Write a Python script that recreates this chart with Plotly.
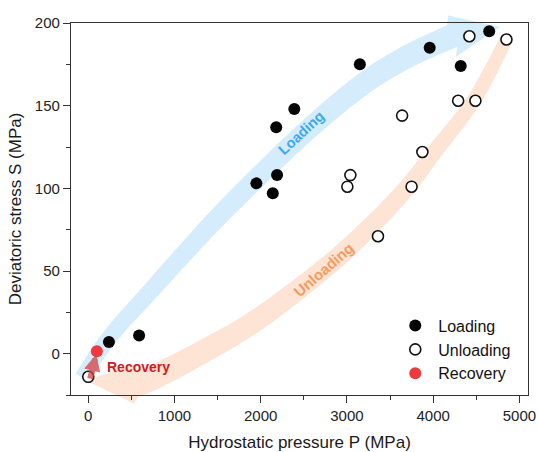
import plotly.graph_objects as go

# ---------------- data ----------------
loading_p = [240, 590, 1950, 2140, 2190, 2180, 2390, 3150, 3960, 4320, 4650]
loading_s = [7, 11, 103, 97, 108, 137, 148, 175, 185, 174, 195]

unloading_p = [0, 3005, 3040, 3360, 3750, 3875, 3640, 4290, 4490, 4420, 4850]
unloading_s = [-14, 101, 108, 71, 101, 122, 144, 153, 153, 192, 190]

recovery_p = [100]
recovery_s = [1.5]

x_range = [-200, 5100]
y_range = [-25, 200]

# guide arrows (decorations), in data units
loading_guide_p = [-73, 252, 716, 1238, 1667, 2456, 3141, 3674, 4219]
loading_guide_s = [-14.5, 10.3, 37.5, 67.7, 91.2, 131.1, 161.3, 178.9, 192.1]
loading_tip = (4776, 197.6)

unloading_guide_p = [4858, 4475, 4033, 3674, 3210, 2723, 1957, 1331, 751, 542]
unloading_guide_s = [190.9, 153.5, 123.3, 99.1, 73.7, 50.8, 20.5, 1.2, -14.5, -18.1]
unloading_tip = (-26, -16.3)

# ---------------- layout geometry ----------------
W_FIG, H_FIG = 538, 452
M_L, M_R, M_T, M_B = 71, 10, 23, 57
PW = W_FIG - M_L - M_R
PH = H_FIG - M_T - M_B


def to_px(x, y):
    return ((x - x_range[0]) / (x_range[1] - x_range[0]) * PW,
            (y_range[1] - y) / (y_range[1] - y_range[0]) * PH)


def to_dom(px, py):
    return (px / PW, 1 - py / PH)


def catmull(pts, n=14):
    out = []
    m = len(pts)
    for i in range(m - 1):
        p0 = pts[max(i - 1, 0)]
        p1 = pts[i]
        p2 = pts[i + 1]
        p3 = pts[min(i + 2, m - 1)]
        for k in range(n):
            t = k / n
            t2, t3 = t * t, t * t * t
            out.append(tuple(0.5 * ((2 * p1[j]) + (-p0[j] + p2[j]) * t +
                                    (2 * p0[j] - 5 * p1[j] + 4 * p2[j] - p3[j]) * t2 +
                                    (-p0[j] + 3 * p1[j] - 3 * p2[j] + p3[j]) * t3)
                             for j in range(2)))
    out.append(pts[-1])
    return out


def band_path(xs, ys, tip, w0, w1, head_hw):
    pts = [to_px(x, y) for x, y in zip(xs, ys)]
    curve = catmull(pts)
    n = len(curve)
    side_a, side_b = [], []
    for i, (x, y) in enumerate(curve):
        a = curve[max(i - 1, 0)]
        b = curve[min(i + 1, n - 1)]
        dx, dy = b[0] - a[0], b[1] - a[1]
        L = (dx * dx + dy * dy) ** 0.5 or 1
        nx, ny = -dy / L, dx / L
        w = w0 + (w1 - w0) * i / (n - 1)
        side_a.append((x + nx * w / 2, y + ny * w / 2))
        side_b.append((x - nx * w / 2, y - ny * w / 2))
    ex, ey = curve[-1]
    tx, ty = to_px(*tip)
    dx, dy = tx - ex, ty - ey
    L = (dx * dx + dy * dy) ** 0.5
    nx, ny = -dy / L, dx / L
    barb_a = (ex + nx * head_hw, ey + ny * head_hw)
    barb_b = (ex - nx * head_hw, ey - ny * head_hw)
    poly = side_a + [barb_a, (tx, ty), barb_b] + side_b[::-1]
    dom = [to_dom(*p) for p in poly]
    return "M " + " L ".join(f"{a:.5f},{b:.5f}" for a, b in dom) + " Z"


FONT = "Arial, Liberation Sans, sans-serif"

fig = go.Figure()

fig.add_trace(go.Scatter(
    x=loading_p, y=loading_s, mode="markers", name="Loading",
    marker=dict(size=12, color="#050505", line=dict(width=0)), cliponaxis=False))
fig.add_trace(go.Scatter(
    x=unloading_p, y=unloading_s, mode="markers", name="Unloading",
    marker=dict(size=11, color="white", line=dict(width=1.6, color="#111111")), cliponaxis=False))
fig.add_trace(go.Scatter(
    x=recovery_p, y=recovery_s, mode="markers", name="Recovery",
    marker=dict(size=12, color="#ee3a3d", line=dict(width=0)), cliponaxis=False))

shapes = [
    dict(type="path", xref="x domain", yref="y domain", layer="below",
         path=band_path(loading_guide_p, loading_guide_s, loading_tip, 15, 24, 21),
         fillcolor="#d5ecfc", line=dict(width=0)),
    dict(type="path", xref="x domain", yref="y domain", layer="below",
         path=band_path(unloading_guide_p, unloading_guide_s, unloading_tip, 13, 26, 20),
         fillcolor="#fde4d4", line=dict(width=0)),
]

annotations = [
    dict(x=2469, y=133.5, xref="x", yref="y", text="<b>Loading</b>", showarrow=False,
         textangle=-43, font=dict(family=FONT, size=14.5, color="#3aa9f2")),
    dict(x=2731, y=50.8, xref="x", yref="y", text="<b>Unloading</b>", showarrow=False,
         textangle=-41, font=dict(family=FONT, size=15, color="#f89a5c")),
    dict(x=195, y=-7.9, xref="x", yref="y", text="<b>Recovery</b>", showarrow=False,
         xanchor="left", font=dict(family=FONT, size=14, color="#cf1b1f")),
    dict(x=92, y=-0.5, ax=18, ay=-16, xref="x", yref="y", axref="x", ayref="y",
         text="", showarrow=True, arrowhead=2, arrowsize=0.55, arrowwidth=6,
         arrowcolor="rgba(214,64,64,0.75)", standoff=0, startstandoff=0),
]

fig.update_layout(
    width=W_FIG, height=H_FIG,
    margin=dict(l=M_L, r=M_R, t=M_T, b=M_B, autoexpand=False),
    paper_bgcolor="white", plot_bgcolor="white",
    font=dict(family=FONT, size=15, color="#1a1a1a"),
    shapes=shapes, annotations=annotations,
    showlegend=True,
    legend=dict(x=0.703, y=0.232, xanchor="left", yanchor="top",
                bgcolor="rgba(0,0,0,0)", borderwidth=0,
                font=dict(family=FONT, size=16, color="#111111"),
                itemsizing="trace", itemwidth=36),
)

axis_common = dict(showline=True, linecolor="#333333", linewidth=1.3, mirror=True,
                   showgrid=False, zeroline=False, ticks="outside", ticklen=7,
                   tickwidth=1.2, tickcolor="#333333",
                   tickfont=dict(family=FONT, size=15, color="#222222"))

fig.update_xaxes(range=x_range, tick0=0, dtick=1000,
                 minor=dict(ticks="outside", ticklen=4, tick0=0, dtick=500,
                            tickcolor="#333333", tickwidth=1.1, showgrid=False),
                 title=dict(text="Hydrostatic pressure P (MPa)",
                            font=dict(family=FONT, size=17, color="#1a1a1a"), standoff=12),
                 **axis_common)
fig.update_yaxes(range=y_range, tick0=0, dtick=50,
                 minor=dict(ticks="outside", ticklen=4, tick0=0, dtick=25,
                            tickcolor="#333333", tickwidth=1.1, showgrid=False),
                 title=dict(text="Deviatoric stress S (MPa)",
                            font=dict(family=FONT, size=17, color="#1a1a1a"), standoff=8),
                 **axis_common)

fig.write_html("out.html", config={"displayModeBar": False},
               post_script="document.body.style.margin='0';")
